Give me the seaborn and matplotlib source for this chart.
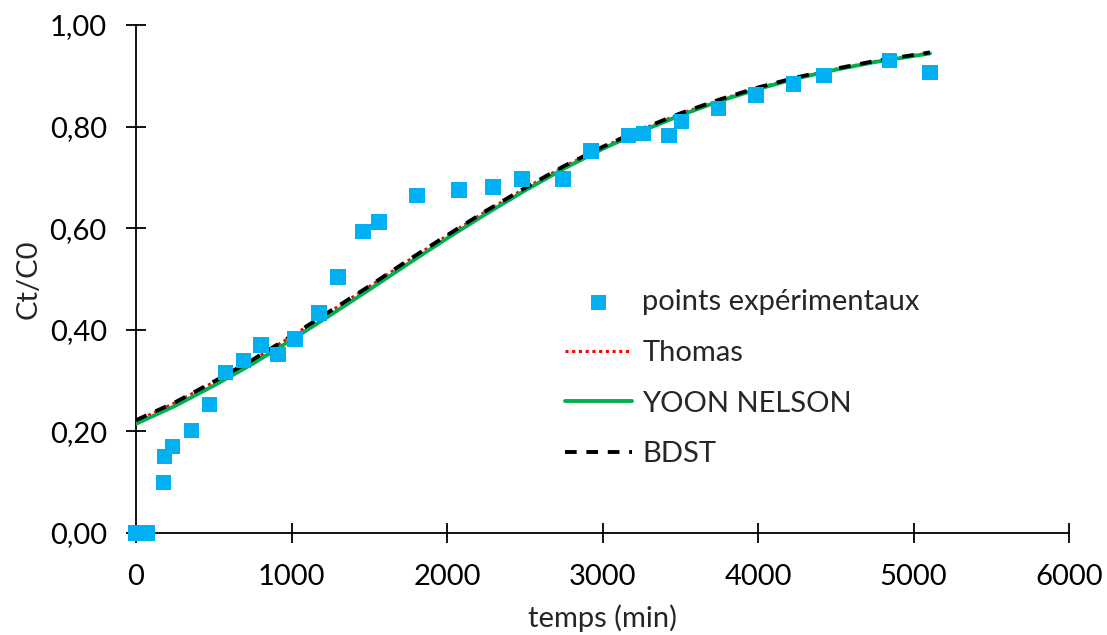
import numpy as np
import pandas as pd
import matplotlib as mpl
mpl.use('Agg')
import matplotlib.pyplot as plt
from matplotlib.ticker import FuncFormatter
import seaborn as sns

# experimental points (time in min, Ct/C0)
t_exp = [0, 35, 75, 175, 185, 234, 358, 471, 577, 690, 804, 913, 1022, 1177,
         1299, 1460, 1563, 1807, 2077, 2296, 2482, 2746, 2926, 3166, 3263,
         3428, 3507, 3745, 3987, 4227, 4424, 4844, 5106]
c_exp = [0.0, 0.0, 0.0, 0.100, 0.150, 0.170, 0.201, 0.253, 0.316, 0.339, 0.370,
         0.352, 0.382, 0.433, 0.504, 0.594, 0.612, 0.665, 0.675, 0.681, 0.697,
         0.697, 0.752, 0.783, 0.787, 0.782, 0.810, 0.836, 0.862, 0.884, 0.900,
         0.930, 0.906]

# model curves
t_model = [0, 250, 500, 750, 1000, 1250, 1500, 1750, 2000, 2250, 2500, 2750,
           3000, 3250, 3500, 3750, 4000, 4250, 4500, 4750, 5000, 5106]
thomas = [0.220, 0.256, 0.297, 0.340, 0.387, 0.436, 0.485, 0.536, 0.585, 0.633,
          0.678, 0.721, 0.759, 0.794, 0.825, 0.852, 0.876, 0.896, 0.913, 0.928,
          0.940, 0.945]
yoon = [0.215, 0.250, 0.290, 0.333, 0.380, 0.429, 0.479, 0.530, 0.580, 0.628,
        0.674, 0.717, 0.756, 0.791, 0.822, 0.850, 0.874, 0.895, 0.912, 0.927,
        0.939, 0.944]
bdst = [0.222, 0.257, 0.298, 0.341, 0.388, 0.437, 0.486, 0.537, 0.586, 0.634,
        0.679, 0.722, 0.760, 0.795, 0.826, 0.853, 0.877, 0.897, 0.914, 0.929,
        0.941, 0.946]

sns.set_style("ticks")
plt.rcParams['font.family'] = ['Lato', 'DejaVu Sans']
fs = 21

exp_df = pd.DataFrame({'t': t_exp, 'c': c_exp})
mod_df = pd.DataFrame({'t': t_model, 'Thomas': thomas, 'YOON NELSON': yoon, 'BDST': bdst})

fig = plt.figure(figsize=(11.07, 6.35), dpi=100)
ax = fig.add_axes([136 / 1107, 1 - 533 / 635, (1069 - 136) / 1107, (533 - 25) / 635])

sns.scatterplot(data=exp_df, x='t', y='c', marker='s', s=120, color='#00B0F0',
                edgecolor='none', label='points expérimentaux', ax=ax, zorder=5,
                clip_on=False)
sns.lineplot(data=mod_df, x='t', y='Thomas', color='#FF0000', lw=2.2,
             linestyle=(0, (1, 1.2)), label='Thomas', ax=ax, zorder=3)
sns.lineplot(data=mod_df, x='t', y='YOON NELSON', color='#00B050', lw=2.8,
             label='YOON NELSON', ax=ax, zorder=3)
sns.lineplot(data=mod_df, x='t', y='BDST', color='black', lw=2.8,
             linestyle=(0, (3, 2.5)), label='BDST', ax=ax, zorder=4)

ax.set_xlim(0, 6000)
ax.set_ylim(0, 1.0)
ax.set_xticks(range(0, 6001, 1000))
ax.set_yticks(np.arange(0, 1.01, 0.2))
ax.yaxis.set_major_formatter(FuncFormatter(lambda v, p: f'{v:.2f}'.replace('.', ',')))
ax.tick_params(direction='inout', length=14, width=1.3, labelsize=fs, colors='black')
ax.tick_params(axis='y', pad=14)
ax.tick_params(axis='x', pad=15)
for s in ['top', 'right']:
    ax.spines[s].set_visible(False)
for s in ['left', 'bottom']:
    ax.spines[s].set_linewidth(1.3)
    ax.spines[s].set_color('black')
ax.set_xlabel('temps (min)', fontsize=fs, labelpad=11)
ax.set_ylabel('Ct/C0', fontsize=fs, labelpad=6)

ax.legend(loc='upper left', bbox_to_anchor=(565 / 1107, 1 - 289 / 635),
          bbox_transform=fig.transFigure, frameon=False, fontsize=fs,
          handlelength=2.3, handletextpad=0.35, labelspacing=0.85,
          borderpad=0, borderaxespad=0, scatterpoints=1)

fig.savefig('out.png', dpi=100)
